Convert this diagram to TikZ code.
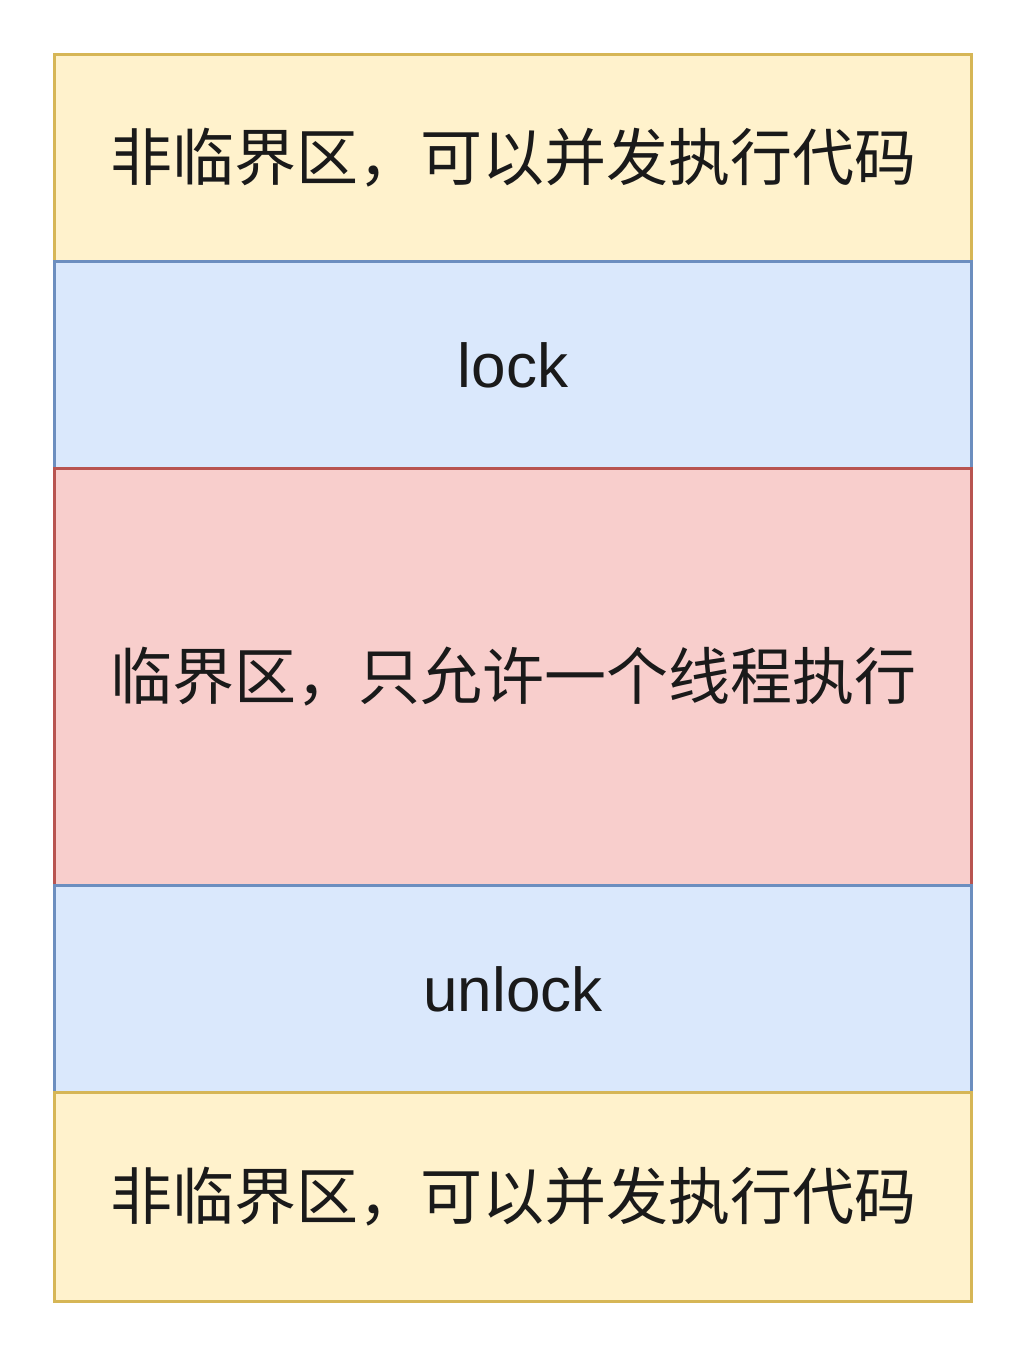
\documentclass[tikz,border=0pt]{standalone}
\usepackage{fontspec}
\setmainfont{Noto Sans CJK SC}
\newfontfamily\latinfont{Liberation Sans}
\usetikzlibrary{positioning}
\definecolor{freefill}{HTML}{FFF2CC}
\definecolor{freeline}{HTML}{D6B656}
\definecolor{lockfill}{HTML}{DAE8FC}
\definecolor{lockline}{HTML}{6C8EBF}
\definecolor{critfill}{HTML}{F8CECC}
\definecolor{critline}{HTML}{B85450}
\definecolor{inktext}{HTML}{1A1A1A}

\begin{document}
\begin{tikzpicture}[x=0.5pt,y=0.5pt,line width=1.5pt,
  band/.style={rectangle,minimum width=458.5pt,inner sep=0pt,text=inktext,font=\fontsize{31}{37}\selectfont},
  freeband/.style={band,fill=freefill,draw=freeline},
  lockband/.style={band,fill=lockfill,draw=lockline,font=\fontsize{31}{37}\selectfont\latinfont},
  critband/.style={band,fill=critfill,draw=critline}]
    \useasboundingbox (0,0) rectangle (1024,-1359);
    \node[freeband,minimum height=103.5pt,anchor=north west] (freetop) at (53,-53) {\raisebox{2pt}{非临界区，可以并发执行代码}};
    \node[lockband,minimum height=103.5pt,below=-1.5pt of freetop] (lock) {lock};
    \node[critband,minimum height=208.5pt,below=-1.5pt of lock] (crit) {\raisebox{2pt}{临界区，只允许一个线程执行}};
    \node[lockband,minimum height=103.5pt,below=-1.5pt of crit] (unlock) {unlock};
    \node[freeband,minimum height=104.5pt,below=-1.5pt of unlock] (freebottom) {\raisebox{2pt}{非临界区，可以并发执行代码}};
  \end{tikzpicture}
\end{document}
